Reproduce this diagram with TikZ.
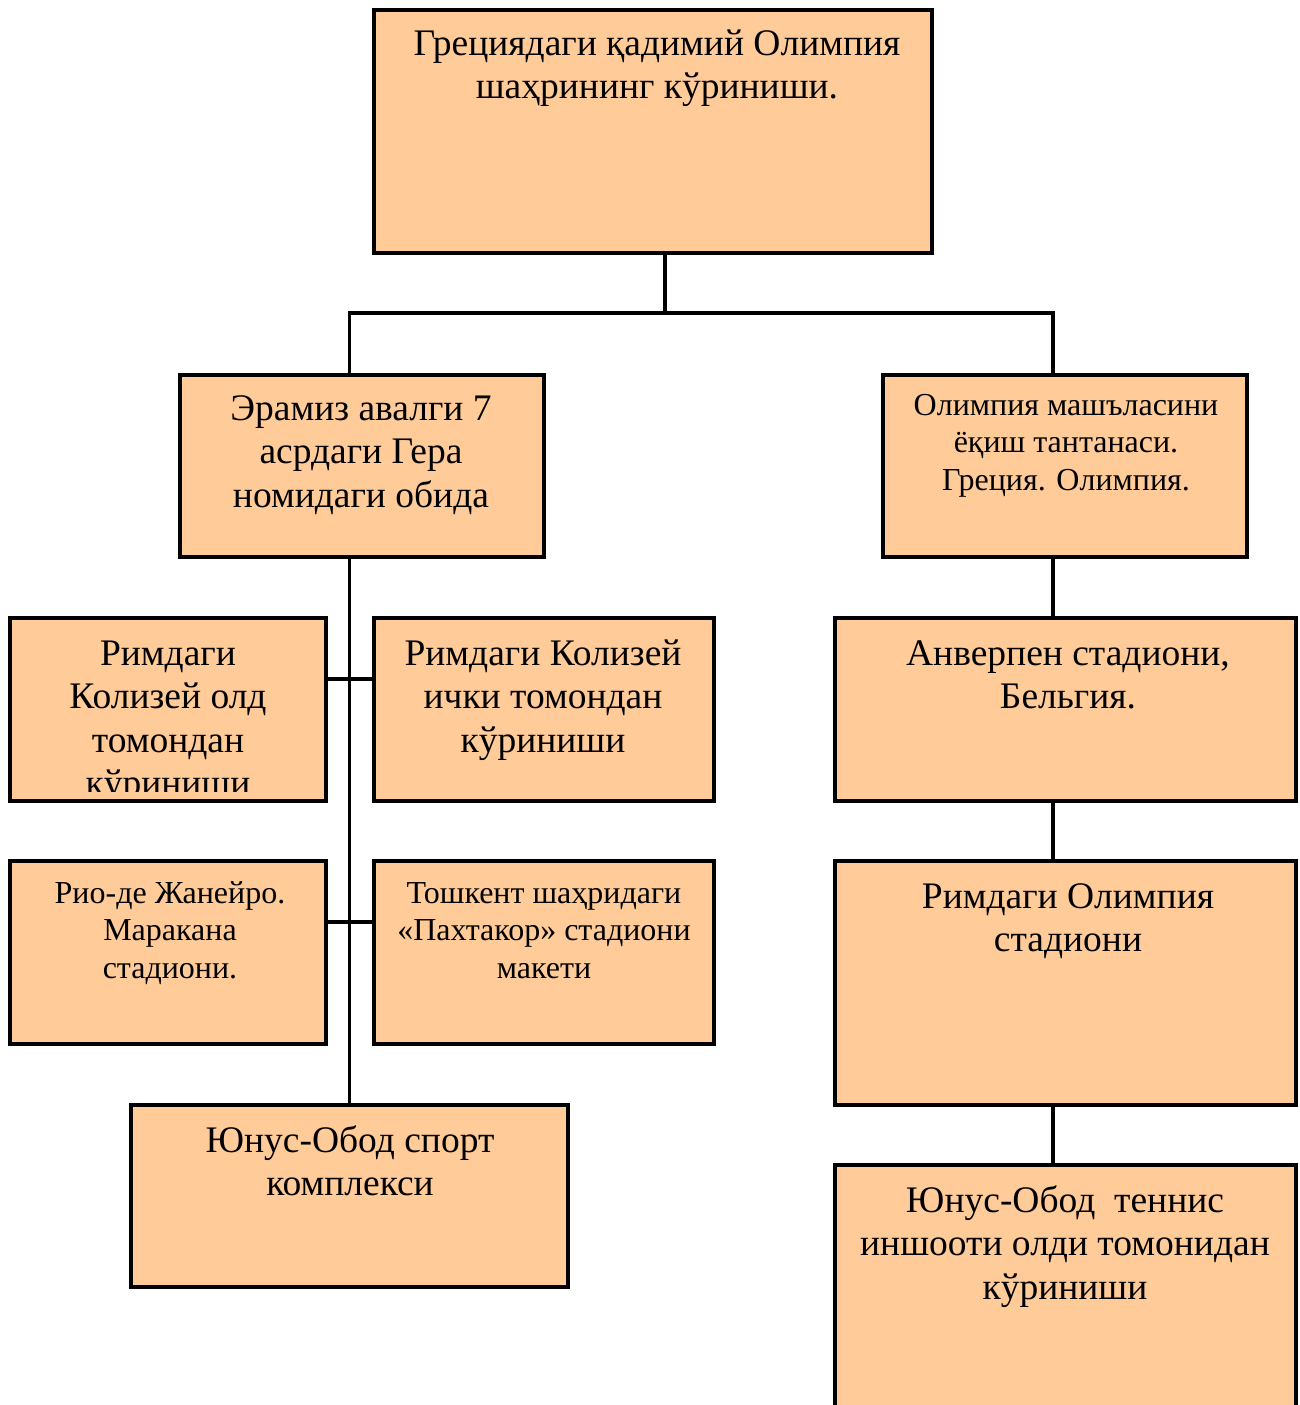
\documentclass[tikz,border=0pt]{standalone}
\usepackage{fontspec}
\setmainfont{Liberation Serif}
\definecolor{peach}{RGB}{255,204,153}
\newcommand\fl{\rule{0pt}{0.8em}}
\tikzset{
  box/.style={draw=black, line width=4pt, fill=peach, inner sep=0pt, outer sep=0pt},
  lnk/.style={draw=black, line width=3.5pt},
  bigtxt/.style={anchor=north, align=center, inner sep=0pt, font=\fontsize{37.5}{43.5}\selectfont},
  smalltxt/.style={anchor=north, align=center, inner sep=0pt, font=\fontsize{32}{37.5}\selectfont}
}
\begin{document}
\begin{tikzpicture}[x=1pt,y=-1pt]
\useasboundingbox (0,0) rectangle (1299,1405);
\clip (0,0) rectangle (1299,1405);
\fill[white] (0,0) rectangle (1299,1405);
% junction coordinates
\coordinate (tj) at (665,313);
\coordinate (lj) at (349.5,313);
\coordinate (rj) at (1053,313);
\coordinate (cd) at (349.5,679);
\coordinate (ef) at (349.5,922);
% boxes
\node[box, minimum width=558pt, minimum height=243pt] (T) at (653,131.5) {};
\node[box, minimum width=364pt, minimum height=182pt] (A) at (362,466) {};
\node[box, minimum width=364pt, minimum height=182pt] (B) at (1065,466) {};
\node[box, minimum width=316pt, minimum height=183pt] (C) at (168,709.5) {};
\node[box, minimum width=340pt, minimum height=183pt] (D) at (544,709.5) {};
\node[box, minimum width=316pt, minimum height=183pt] (E) at (168,952.5) {};
\node[box, minimum width=340pt, minimum height=183pt] (F) at (544,952.5) {};
\node[box, minimum width=437pt, minimum height=182pt] (G) at (349.5,1196) {};
\node[box, minimum width=461pt, minimum height=183pt] (H) at (1065.5,709.5) {};
\node[box, minimum width=461pt, minimum height=244pt] (I) at (1065.5,983) {};
\node[box, minimum width=461pt, minimum height=265pt] (J) at (1065.5,1297.5) {};
% connectors
\draw[lnk] (T.south -| tj) -- (tj);
\draw[lnk] (A.north -| lj) -- (lj) -- (rj) -- (B.north -| rj);
\draw[lnk] (A.south -| G.north) -- (G.north);
\draw[lnk] (C.east |- cd) -- (D.west |- cd);
\draw[lnk] (E.east |- ef) -- (F.west |- ef);
\draw[lnk] (B.south -| rj) -- (H.north -| rj);
\draw[lnk] (H.south -| rj) -- (I.north -| rj);
\draw[lnk] (I.south -| rj) -- (J.north -| rj);
% texts
\node[bigtxt] (tT) at (657,25) {\fl Грециядаги қадимий Олимпия\\шаҳрининг кўриниши.};
\node[bigtxt] (tA) at (361,390) {\fl Эрамиз авалги 7\\асрдаги Гера\\номидаги обида};
\node[smalltxt] (tB) at (1066,389.4) {\fl Олимпия машъласини\\ёқиш тантанаси.\\Греция. Олимпия.};
\begin{scope}
\clip (12,620) rectangle (324,791);
\node[bigtxt] (tC) at (168,635) {\fl Римдаги\\Колизей олд\\томондан\\кўриниши};
\end{scope}
\node[bigtxt] (tD) at (543,635) {\fl Римдаги Колизей\\ички томондан\\кўриниши};
\node[smalltxt] (tE) at (170,877.4) {\fl Рио-де Жанейро.\\Маракана\\стадиони.};
\node[smalltxt] (tF) at (544,877.4) {\fl Тошкент шаҳридаги\\«Пахтакор» стадиони\\макети};
\node[bigtxt] (tG) at (350,1122) {\fl Юнус-Обод спорт\\комплекси};
\node[bigtxt] (tH) at (1068,635) {\fl Анверпен стадиони,\\Бельгия.};
\node[bigtxt] (tI) at (1068,878) {\fl Римдаги Олимпия\\стадиони};
\node[bigtxt] (tJ) at (1065,1182) {\fl Юнус-Обод~ теннис\\иншооти олди томонидан\\кўриниши};
\end{tikzpicture}
\end{document}
